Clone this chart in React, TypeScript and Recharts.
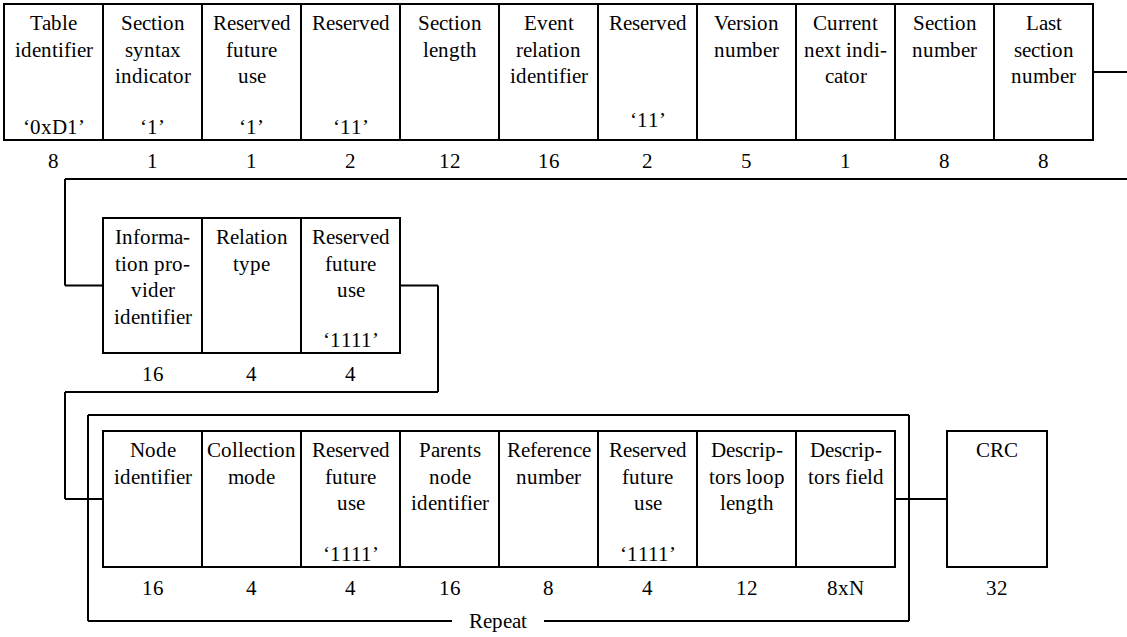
import { ComposedChart, XAxis, YAxis, ReferenceArea, ReferenceLine } from 'recharts';

// Section fields, one list per row of the diagram
const row1Names = [
  'Table\nidentifier',
  'Section\nsyntax\nindicator',
  'Reserved\nfuture\nuse',
  'Reserved',
  'Section\nlength',
  'Event\nrelation\nidentifier',
  'Reserved',
  'Version\nnumber',
  'Current\nnext indi-\ncator',
  'Section\nnumber',
  'Last\nsection\nnumber',
];
const row1Bits = ['8', '1', '1', '2', '12', '16', '2', '5', '1', '8', '8'];
const row1Values = ['‘0xD1’', '‘1’', '‘1’', '‘11’', '', '', '‘11’', '', '', '', ''];

const row2Names = ['Informa-\ntion pro-\nvider\nidentifier', 'Relation\ntype', 'Reserved\nfuture\nuse'];
const row2Bits = ['16', '4', '4'];
const row2Values = ['', '', '‘1111’'];

const row3Names = [
  'Node\nidentifier',
  'Collection\nmode',
  'Reserved\nfuture\nuse',
  'Parents\nnode\nidentifier',
  'Reference\nnumber',
  'Reserved\nfuture\nuse',
  'Descrip-\ntors loop\nlength',
  'Descrip-\ntors field',
];
const row3Bits = ['16', '4', '4', '16', '8', '4', '12', '8xN'];
const row3Values = ['', '', '‘1111’', '', '', '‘1111’', '', ''];

const crcName = 'CRC';
const crcBits = '32';
const repeatLabel = 'Repeat';

// layout (x in column units, y in pixels)
const W = 1127;
const H = 637;
const COL = 99;
const X0 = 4;
const FONT = "DiagramSerif, 'Liberation Serif', 'DejaVu Serif', serif";
const FONT_CSS = `@font-face { font-family: 'DiagramSerif'; src: local('Liberation Serif'), local('LiberationSerif'), local('LiberationSerif-Regular'), local('DejaVu Serif'), local('DejaVuSerif'); }`;

const rows = [
  { names: row1Names, bits: row1Bits, values: row1Values, start: 0, top: 4, bottom: 140 },
  { names: row2Names, bits: row2Bits, values: row2Values, start: 1, top: 218, bottom: 353 },
  { names: row3Names, bits: row3Bits, values: row3Values, start: 1, top: 431, bottom: 567 },
];

const px = (p: number) => (p - X0) / COL;
const mid = (r: { top: number; bottom: number }) => (r.top + r.bottom) / 2;

const BUS_X = px(65);
const TURN_X = px(438);
const FRAME_L = px(88);
const FRAME_R = px(909);
const FRAME_T = 415;
const FRAME_B = 621;
const GAP_L = px(452);
const GAP_R = px(544);
const CRC_L = px(947);
const CRC_R = px(1047);

function FieldLabel(props: any) {
  const { viewBox, fieldName, fieldValue, fieldBits } = props;
  if (!viewBox) return null;
  const { x, y, width, height } = viewBox;
  const cx = x + width / 2;
  const lines: string[] = fieldName.split('\n');
  // the lone '11' in the second Reserved field sits a little higher
  const valueY = fieldName === 'Reserved' && fieldValue && x > 500 ? y + height - 20 : y + height - 13;
  return (
    <g style={{ fontFamily: FONT, fontSize: 21 }} fill="#000" textAnchor="middle" dominantBaseline="central">
      {lines.map((l, i) => (
        <text key={i} x={cx} y={y + 19 + i * 26.5}>
          {l}
        </text>
      ))}
      {fieldValue ? (
        <text x={cx} y={valueY}>
          {fieldValue}
        </text>
      ) : null}
      <text x={cx} y={y + height + 21}>
        {fieldBits}
      </text>
    </g>
  );
}

function RepeatText(props: any) {
  const { viewBox } = props;
  if (!viewBox) return null;
  const { x, y, width, height } = viewBox;
  return (
    <text
      x={x + width / 2}
      y={y + height / 2}
      textAnchor="middle"
      dominantBaseline="central"
      fill="#000"
      style={{ fontFamily: FONT, fontSize: 21 }}
    >
      {repeatLabel}
    </text>
  );
}

const line = (x1: number, y1: number, x2: number, y2: number, key: string) => (
  <ReferenceLine
    key={key}
    segment={[
      { x: x1, y: y1 },
      { x: x2, y: y2 },
    ]}
    stroke="#000"
    strokeWidth={2}
    ifOverflow="visible"
  />
);

export default function App() {
  const r1 = rows[0];
  const r2 = rows[1];
  const r3 = rows[2];
  const r1End = r1.start + r1.names.length;
  const r2End = r2.start + r2.names.length;
  const r3End = r3.start + r3.names.length;
  const xMax = px(W);

  return (
    <div style={{ position: 'absolute', left: 0, top: 0, width: W, height: H, background: '#fff' }}>
      <style>{FONT_CSS}</style>
      <ComposedChart width={W} height={H} data={[{ x: 0, y: 0 }]} margin={{ top: 0, right: 0, bottom: 0, left: 0 }}>
        <XAxis type="number" dataKey="x" domain={[px(0), xMax]} allowDataOverflow hide />
        <YAxis type="number" dataKey="y" domain={[0, H]} reversed allowDataOverflow hide />

        {/* connectors */}
        {line(r1End, mid(r1), xMax, mid(r1), 'c1')}
        {line(BUS_X, 179, xMax, 179, 'c2')}
        {line(BUS_X, 179, BUS_X, mid(r2), 'c3')}
        {line(BUS_X, mid(r2), r2.start, mid(r2), 'c4')}
        {line(r2End, mid(r2), TURN_X, mid(r2), 'c5')}
        {line(TURN_X, mid(r2), TURN_X, 392, 'c6')}
        {line(BUS_X, 392, TURN_X, 392, 'c7')}
        {line(BUS_X, 392, BUS_X, mid(r3), 'c8')}
        {line(BUS_X, mid(r3), r3.start, mid(r3), 'c9')}
        {line(r3End, mid(r3), CRC_L, mid(r3), 'c10')}

        {/* repeat frame */}
        {line(FRAME_L, FRAME_T, FRAME_R, FRAME_T, 'f1')}
        {line(FRAME_L, FRAME_T, FRAME_L, FRAME_B, 'f2')}
        {line(FRAME_R, FRAME_T, FRAME_R, FRAME_B, 'f3')}
        {line(FRAME_L, FRAME_B, GAP_L, FRAME_B, 'f4')}
        {line(GAP_R, FRAME_B, FRAME_R, FRAME_B, 'f5')}

        {rows.map((row, ri) =>
          row.names.map((name, i) => (
            <ReferenceArea
              key={`r${ri}-${i}`}
              x1={row.start + i}
              x2={row.start + i + 1}
              y1={row.top}
              y2={row.bottom}
              fill="#fff"
              fillOpacity={1}
              stroke="#000"
              strokeWidth={2}
              ifOverflow="visible"
              label={<FieldLabel fieldName={name} fieldValue={row.values[i]} fieldBits={row.bits[i]} />}
            />
          ))
        )}
        <ReferenceArea
          x1={CRC_L}
          x2={CRC_R}
          y1={r3.top}
          y2={r3.bottom}
          fill="#fff"
          fillOpacity={1}
          stroke="#000"
          strokeWidth={2}
          ifOverflow="visible"
          label={<FieldLabel fieldName={crcName} fieldValue="" fieldBits={crcBits} />}
        />
        <ReferenceArea
          x1={GAP_L}
          x2={GAP_R}
          y1={FRAME_B - 12}
          y2={FRAME_B + 12}
          fill="none"
          stroke="none"
          ifOverflow="visible"
          label={<RepeatText />}
        />
      </ComposedChart>
    </div>
  );
}
